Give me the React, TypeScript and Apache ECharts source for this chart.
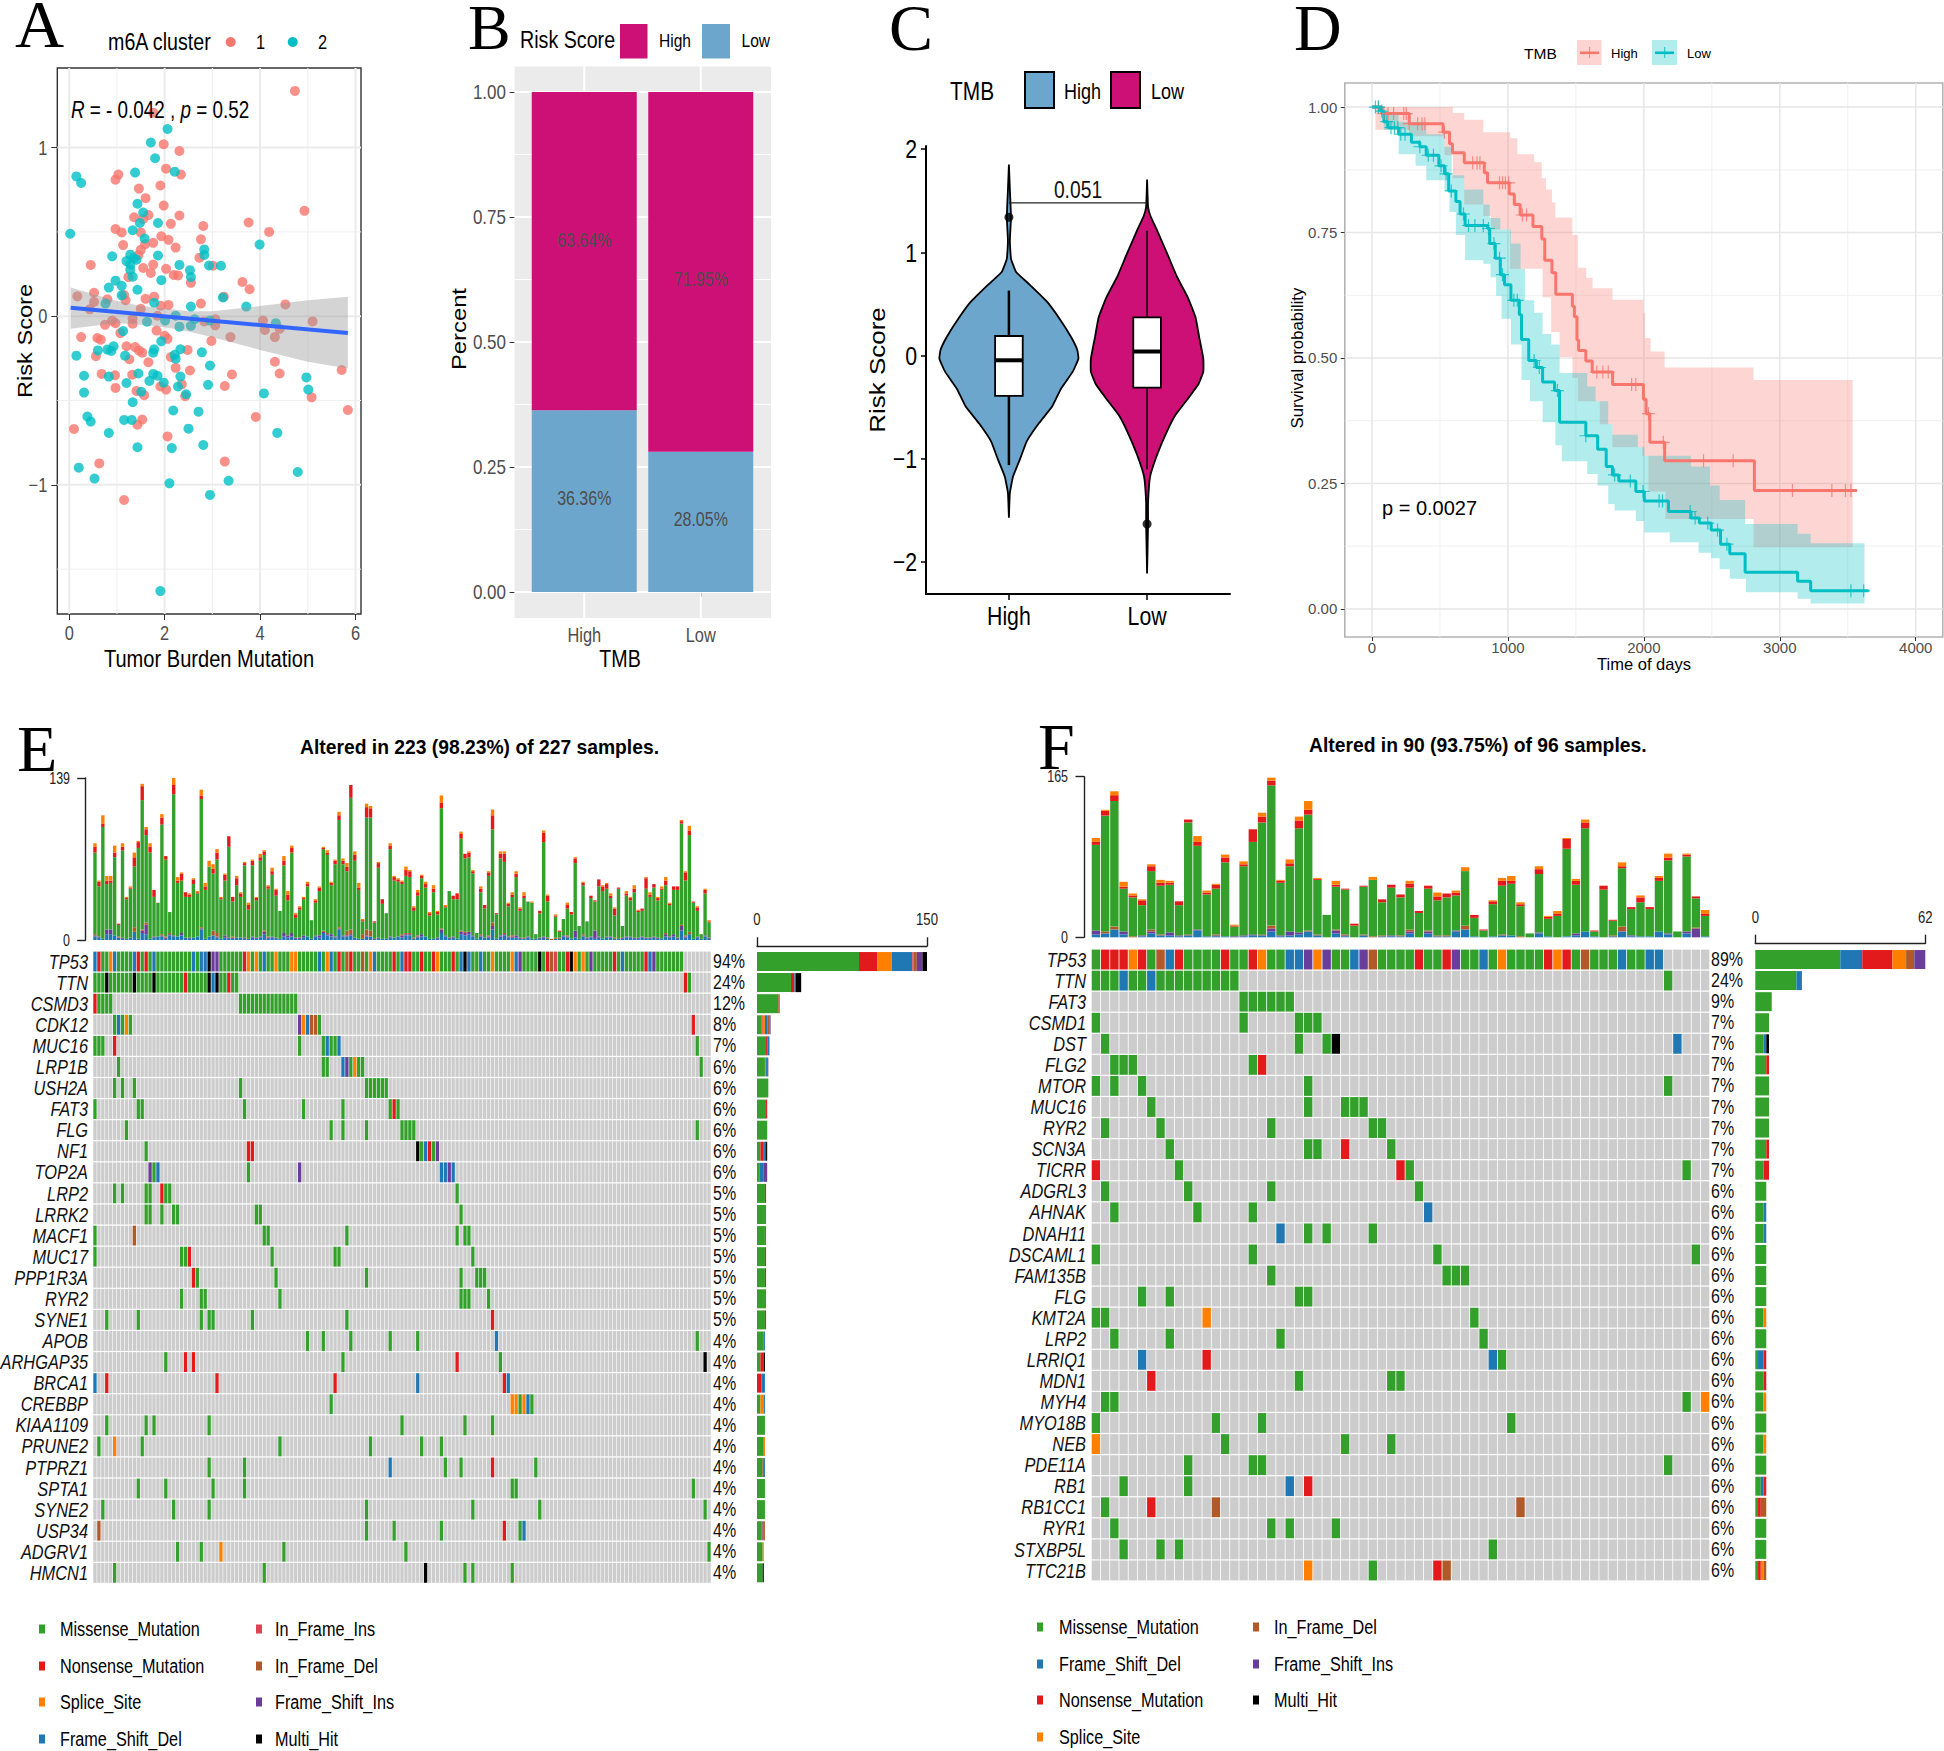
import React, { useEffect, useRef } from "react";
import * as echarts from "echarts";

const SANS = "'Liberation Sans', Arial, sans-serif";
const SERIF = "'Liberation Serif', serif";
const SQUEEZE = 0.82;

// ---------- Panel A ----------
const cluster1Points = [[4.73,1.336],[1.76,1.207],[1.98,1.02],[2.31,0.98],[2.03,0.875],[2.34,0.84],[1.03,0.84],[0.97,0.81],[1.91,0.775],[1.46,0.757],[1.6,0.7],[1.98,0.656],[4.93,0.625],[1.66,0.6],[1.36,0.587],[2.31,0.597],[1.55,0.577],[2.13,0.548],[2.81,0.535],[3.76,0.556],[0.97,0.517],[1.1,0.497],[4.19,0.5],[1.5,0.497],[1.93,0.474],[2.08,0.453],[2.76,0.456],[1.76,0.435],[1.13,0.422],[2.23,0.407],[1.59,0.427],[1.5,0.394],[2.73,0.347],[0.45,0.304],[1.45,0.363],[1.76,0.306],[3.01,0.299],[1.55,0.286],[2.03,0.281],[1.71,0.257],[2.19,0.245],[2.28,0.242],[1.24,0.232],[2.55,0.198],[3.63,0.203],[3.78,0.16],[0.52,0.139],[0.17,0.118],[3.24,0.116],[1.15,0.126],[0.8,0.1],[1.6,0.103],[0.52,0.085],[1.78,0.116],[1.18,0.095],[4.53,0.07],[2.76,0.075],[1.92,0.062],[2.08,0.067],[0.43,0.041],[1.5,0.044],[1.85,0.003],[1.33,-0.015],[1.33,-0.044],[0.9,-0.026],[0.75,-0.051],[0.97,-0.041],[2.83,-0.031],[3.06,-0.018],[3.06,-0.054],[4.06,-0.026],[5.1,-0.031],[4.1,-0.082],[4.41,-0.075],[0.25,-0.124],[1.83,-0.085],[1.07,-0.1],[0.59,-0.129],[0.66,-0.139],[2.0,-0.116],[2.06,-0.134],[3.38,-0.124],[4.31,-0.124],[2.98,-0.147],[1.2,-0.178],[1.38,-0.183],[1.46,-0.203],[1.53,-0.216],[2.48,-0.2],[0.56,-0.237],[1.26,-0.255],[2.13,-0.242],[4.31,-0.27],[1.66,-0.273],[2.23,-0.306],[2.53,-0.322],[5.71,-0.319],[0.68,-0.342],[0.96,-0.35],[1.32,-0.347],[4.41,-0.34],[3.41,-0.345],[1.91,-0.417],[2.36,-0.404],[0.97,-0.425],[3.26,-0.414],[2.03,-0.435],[1.41,-0.443],[1.57,-0.468],[2.43,-0.474],[5.08,-0.481],[5.84,-0.556],[3.91,-0.597],[1.53,-0.613],[1.43,-0.643],[0.1,-0.669],[2.06,-0.713],[3.26,-0.862],[0.63,-0.873],[1.15,-1.09]];
const cluster2Points = [[2.06,1.11],[1.71,1.03],[1.8,0.937],[1.38,0.852],[2.21,0.857],[0.15,0.829],[0.25,0.79],[1.43,0.667],[1.55,0.615],[1.86,0.553],[1.48,0.553],[1.33,0.51],[1.58,0.461],[0.02,0.489],[3.99,0.425],[2.83,0.396],[2.83,0.363],[0.9,0.355],[1.86,0.36],[1.28,0.365],[1.35,0.345],[1.41,0.335],[1.2,0.327],[1.28,0.306],[2.31,0.304],[2.93,0.301],[3.18,0.299],[1.28,0.275],[2.53,0.273],[1.33,0.234],[2.55,0.232],[1.93,0.214],[0.97,0.211],[1.1,0.18],[0.83,0.17],[1.43,0.157],[1.1,0.124],[3.22,0.111],[1.78,0.08],[0.76,0.075],[2.55,0.057],[3.71,0.057],[2.23,0.003],[2.01,-0.026],[1.63,-0.033],[2.63,-0.018],[2.95,-0.026],[2.31,-0.062],[2.55,-0.057],[4.33,-0.041],[1.13,-0.088],[1.93,-0.149],[0.93,-0.178],[0.6,-0.203],[0.8,-0.198],[0.88,-0.206],[1.78,-0.196],[1.76,-0.216],[2.33,-0.196],[2.78,-0.214],[2.21,-0.229],[2.23,-0.252],[1.17,-0.234],[0.15,-0.234],[2.95,-0.293],[1.45,-0.34],[1.76,-0.342],[1.85,-0.353],[2.33,-0.358],[0.31,-0.353],[0.83,-0.358],[1.68,-0.384],[1.98,-0.394],[1.2,-0.396],[2.91,-0.407],[2.28,-0.417],[4.97,-0.363],[5.01,-0.435],[1.51,-0.448],[0.31,-0.453],[2.45,-0.463],[4.08,-0.458],[1.33,-0.51],[2.18,-0.559],[2.71,-0.566],[0.38,-0.595],[0.45,-0.625],[1.15,-0.615],[1.31,-0.615],[2.5,-0.667],[0.83,-0.692],[4.36,-0.692],[2.81,-0.764],[1.43,-0.777],[2.15,-0.782],[0.2,-0.898],[4.79,-0.924],[0.53,-0.963],[3.34,-0.976],[2.1,-0.991],[2.95,-1.06],[1.91,-1.63]];
const regressionLine = [[0.03,0.05],[5.84,-0.1]];
const regressionUpper = [[0.03,0.17],[1,0.09],[1.5,0.06],[2,0.045],[2.5,0.03],[3,0.03],[4,0.06],[5,0.095],[5.84,0.115]];
const regressionLower = [[0.03,-0.075],[1,-0.04],[1.5,-0.05],[2,-0.065],[2.5,-0.09],[3,-0.125],[4,-0.2],[5,-0.27],[5.84,-0.31]];

// ---------- Panel B ----------
const tmbGroups = ["High", "Low"];
const riskHighShare = [0.6364, 0.7195];
const riskLowShare = [0.3636, 0.2805];
const shareLabels: any[] = [[0,0.7034,"63.64%"],[1,0.625,"71.95%"],[0,0.187,"36.36%"],[1,0.146,"28.05%"]];

// ---------- Panel C ----------
const violinHigh = [[1.85,0],[1.61,0.007],[1.34,0.015],[1.11,0.007],[0.94,0.015],[0.81,0.052],[0.69,0.148],[0.52,0.277],[0.35,0.37],[0.18,0.45],[0.055,0.495],[-0.03,0.503],[-0.155,0.462],[-0.32,0.377],[-0.49,0.314],[-0.66,0.214],[-0.83,0.129],[-1.0,0.081],[-1.17,0.03],[-1.33,0.007],[-1.57,0]];
const violinLow = [[1.705,0],[1.44,0.007],[1.35,0.025],[1.23,0.067],[0.98,0.148],[0.77,0.214],[0.56,0.296],[0.37,0.351],[0.18,0.377],[-0.03,0.407],[-0.155,0.407],[-0.28,0.37],[-0.43,0.288],[-0.58,0.203],[-0.745,0.14],[-0.955,0.074],[-1.17,0.022],[-1.42,0.007],[-1.63,0.007],[-2.11,0]];
const boxStats = [[1,-1.06,-0.39,-0.045,0.19,0.63,2.5],[2,-1.1,-0.31,0.04,0.37,1.21,1.5]];
const violinOutliers = [[1,1.34],[2,-1.63]];
const pBracket = [[1,1.48],[2,1.48]];

// ---------- Panel D ----------
const kmHigh = [[0,1],[72,0.987],[274,0.967],[523,0.95],[570,0.927],[592,0.909],[679,0.889],[826,0.869],[850,0.849],[1009,0.827],[1047,0.806],[1090,0.785],[1184,0.762],[1249,0.737],[1271,0.695],[1324,0.67],[1352,0.627],[1474,0.603],[1489,0.582],[1508,0.536],[1520,0.515],[1573,0.494],[1620,0.472],[1770,0.447],[1997,0.418],[2016,0.389],[2044,0.332],[2153,0.295],[2813,0.236],[3567,0.236]];
const kmLow = [[0,1],[62,0.992],[87,0.971],[118,0.959],[196,0.946],[290,0.93],[352,0.921],[399,0.904],[492,0.883],[533,0.867],[564,0.833],[617,0.812],[648,0.787],[685,0.764],[850,0.758],[866,0.728],[907,0.699],[944,0.666],[975,0.646],[1022,0.615],[1084,0.586],[1100,0.537],[1153,0.495],[1209,0.481],[1255,0.452],[1343,0.435],[1380,0.372],[1573,0.345],[1660,0.318],[1723,0.284],[1769,0.267],[1816,0.255],[1941,0.234],[2003,0.215],[2181,0.194],[2346,0.181],[2408,0.171],[2495,0.157],[2564,0.129],[2632,0.11],[2745,0.073],[3131,0.055],[3227,0.036],[3654,0.036]];
const censorHigh = [47,87,118,159,234,252,274,336,368,389,533,741,773,794,938,960,981,1006,1106,1137,1654,1698,1738,1910,1941,2034,2143,2439,2657,3093,3383,3483,3523];
const censorLow = [25,47,72,109,140,165,190,212,243,352,414,452,508,545,583,673,710,757,819,857,897,938,960,1044,1069,1193,1231,1364,1573,1785,1900,1994,2112,2137,2340,2377,2470,2542,2611,3523,3617];
const highUpper = [[25,1],[595,0.988],[679,0.975],[819,0.95],[1016,0.938],[1069,0.906],[1193,0.89],[1249,0.858],[1280,0.836],[1324,0.81],[1349,0.78],[1474,0.745],[1514,0.68],[1576,0.66],[1623,0.639],[1769,0.616],[1997,0.59],[2009,0.54],[2050,0.513],[2153,0.481],[2807,0.456],[3536,0.456]];
const highLower = [[25,0.955],[274,0.942],[533,0.904],[595,0.858],[679,0.806],[819,0.783],[875,0.756],[1016,0.678],[1255,0.621],[1318,0.552],[1380,0.502],[1474,0.46],[1514,0.414],[1676,0.368],[1769,0.322],[1988,0.305],[2034,0.234],[2159,0.179],[2807,0.123],[3536,0.123]];
const lowUpper = [[0,1],[87,0.984],[196,0.971],[399,0.946],[533,0.921],[586,0.864],[679,0.836],[819,0.806],[866,0.779],[944,0.756],[1022,0.728],[1093,0.678],[1125,0.615],[1193,0.59],[1255,0.548],[1318,0.527],[1380,0.47],[1583,0.443],[1645,0.414],[1738,0.368],[1769,0.347],[1956,0.322],[2003,0.305],[2346,0.284],[2486,0.246],[2558,0.217],[2745,0.169],[3131,0.15],[3227,0.131],[3623,0.131]];
const lowLower = [[0,1],[87,0.955],[196,0.906],[321,0.883],[399,0.854],[533,0.833],[570,0.791],[617,0.745],[685,0.695],[819,0.688],[872,0.661],[913,0.624],[953,0.578],[1022,0.527],[1100,0.456],[1162,0.414],[1255,0.372],[1349,0.326],[1396,0.294],[1583,0.269],[1660,0.246],[1738,0.209],[1785,0.196],[1941,0.175],[2003,0.152],[2190,0.133],[2402,0.112],[2495,0.101],[2558,0.079],[2632,0.06],[2751,0.033],[3131,0.02],[3227,0.011],[3623,0.011]];

// ---------- Panel E ----------
const eGenes = ["TP53","TTN","CSMD3","CDK12","MUC16","LRP1B","USH2A","FAT3","FLG","NF1","TOP2A","LRP2","LRRK2","MACF1","MUC17","PPP1R3A","RYR2","SYNE1","APOB","ARHGAP35","BRCA1","CREBBP","KIAA1109","PRUNE2","PTPRZ1","SPTA1","SYNE2","USP34","ADGRV1","HMCN1"];
const ePercents = ["94%","24%","12%","8%","7%","6%","6%","6%","6%","6%","6%","5%","5%","5%","5%","5%","5%","5%","4%","4%","4%","4%","4%","4%","4%","4%","4%","4%","4%","4%"];
const eCells = [
"0-149M 0D 1N 4S 5D 10D 11N 13N 15D 25D 27-28D 29H 30-31F 38N 39S 41S 43D 46S 50-51S 57D 59S 60D 62N 64B 65N 68B 70S 71D 76N 78D 79-80N 83N 86N 87S 91N 93D 94H 95D 98D 101S 106S 107D 108F 113H 115N 116B 117I 120N 121H 122S 124S 126F 132N 134D 140N 141D 142F",
"0-36M 3H 10H 15H 23N 29H 30D 31H 34N 150N 151M",
"0N 1-4M 37-51M",
"5M 6D 7M 8S 9M 52F 53S 54D 55-56B 57M 152N",
"0-2M 5N 52M 58M 59D 60-61M 62D 153M",
"6M 58-59M 63D 64F 65M 66S 67-68M 154M",
"5M 7M 10M 37M 69-74M",
"0M 11-12M 38M 53M 63M 75M 76N 77M",
"8M 60M 63M 69M 78-81M 153M",
"13M 39-40N 82H 83M 84D 85N 86M 87F",
"14F 15M 16D 39M 52F 88-89D 90F 91D",
"5M 7M 13-14M 17N 18-19M 92M",
"13-14M 17M 20-21M 41-42M 93M",
"0M 10B 43-44M 64M 92M 94-95M",
"0M 22-23M 24N 45M 61-62M 96M",
"25N 26M 46M 69M 93M 97-99M",
"22M 27-28M 47M 93-95M 100M",
"3M 11M 27M 29-30M 40M 64M 101N",
"54M 58M 65M 75M 82M 102D 153M",
"18M 23N 25N 63M 92N 103M 155H",
"0D 3N 31N 61N 82D 104N 105D",
"60M 106-107S 108M 109S 110D 111M",
"3M 13M 15M 29M 78M 94M 101M",
"1M 5S 12M 47M 70M 83M 88M",
"29M 38M 75D 89M 93M 101N 112M",
"11M 18M 30M 38M 106-107M 152M",
"2M 20M 29M 69M 96M 113M 155M",
"1B 69M 76M 88M 104N 108M 109D",
"21M 27M 32S 48M 79M 156M",
"5M 43M 84H 94M 96M 106M"
];
const eMissenseTop = [75,46,97,48,49,71,13,77,35,44,63,79,120,90,75,37,32,99,69,24,125,49,51,37,37,48,40,121,43,63,57,69,35,51,80,33,47,37,64,26,64,34,68,73,44,56,38,25,64,34,75,19,26,35,46,17,32,42,78,73,47,65,103,65,59,122,68,43,16,105,105,15,62,31,23,78,51,50,48,55,54,25,38,53,45,21,41,22,113,28,42,35,35,87,70,71,57,6,41,27,55,95,22,70,67,29,37,54,25,36,33,32,5,23,84,33,1,20,7,18,27,22,66,12,47,16,36,33,46,42,44,36,21,44,12,38,34,41,24,25,44,37,45,34,43,47,30,43,43,100,51,90,32,25,5,40,15];
const eNonsense = [5,4,3,3,2,4,1,3,1,1,8,5,12,5,5,6,0,6,3,0,8,2,6,4,2,4,1,3,3,0,4,6,1,5,9,4,6,3,2,4,4,2,3,3,2,3,5,0,4,5,4,3,2,1,2,0,2,3,1,2,2,3,4,3,4,11,5,2,1,9,8,1,4,4,0,3,3,2,2,5,5,3,3,2,3,2,3,2,5,1,0,3,5,4,4,4,2,0,3,3,3,12,1,4,7,2,2,3,2,2,0,0,0,2,8,5,0,1,1,0,3,2,4,0,2,0,2,1,6,4,4,2,6,1,0,2,2,3,1,2,9,2,3,2,1,4,1,3,3,2,7,4,1,3,0,3,1];
const eSplice = [3,1,7,4,4,6,0,3,1,1,4,1,2,2,3,0,0,3,0,0,6,3,1,0,1,1,1,5,3,5,4,3,1,1,0,0,2,1,1,2,1,1,3,1,1,3,1,0,4,3,2,1,1,1,2,0,1,1,1,2,1,1,3,2,3,0,3,4,1,3,2,0,1,0,0,2,1,1,1,3,1,1,2,1,2,1,3,1,6,1,0,0,0,2,0,1,1,0,2,0,1,5,0,2,2,1,2,2,1,3,0,1,0,0,2,1,0,1,0,0,2,0,1,0,1,0,0,0,0,1,1,2,1,0,0,2,1,3,1,0,1,2,0,1,2,3,1,0,0,1,1,4,0,1,0,1,1];
const eFrameDel = [3,2,1,5,5,4,2,1,1,2,7,1,6,5,1,2,3,3,1,4,3,3,4,2,1,2,3,9,1,3,4,2,1,2,1,1,2,2,1,1,2,1,2,5,1,2,1,1,3,2,3,1,1,2,3,1,3,2,6,4,3,2,9,3,3,4,2,1,1,3,3,1,1,1,1,2,2,3,2,4,4,1,2,3,3,1,1,1,6,3,1,2,1,5,4,5,3,1,3,2,2,9,1,3,4,2,2,2,1,1,2,1,1,1,2,1,0,1,1,3,2,1,2,1,3,1,2,1,2,1,2,2,1,1,1,2,2,1,1,2,1,1,2,1,1,3,2,3,1,8,2,5,1,2,1,3,1];
const eFrameIns = [1,1,0,4,4,0,0,1,0,0,0,0,2,8,0,1,0,1,1,1,1,0,2,0,1,0,0,1,0,0,0,1,0,2,1,1,0,0,1,0,1,1,1,2,1,1,1,0,3,2,3,1,1,2,0,0,1,2,1,1,2,1,1,1,1,1,0,0,0,1,0,0,1,0,0,1,0,0,2,1,1,0,1,2,0,0,0,1,3,1,1,1,0,2,2,2,1,0,1,0,1,3,0,1,1,1,1,2,1,0,1,0,0,1,1,0,0,0,0,1,1,0,6,0,1,1,1,7,1,0,1,1,0,0,1,1,1,1,1,1,1,1,1,1,0,2,1,2,1,4,1,0,0,1,0,1,1];
const eFrameInDel = [1,0,0,0,0,0,1,0,0,0,4,0,1,2,0,0,0,1,1,1,0,0,0,0,0,0,0,1,0,0,4,3,0,0,0,1,0,0,0,0,0,0,0,1,1,0,0,0,0,0,0,0,0,0,0,0,0,0,1,1,0,0,1,0,4,4,0,0,4,5,5,0,0,0,0,0,0,0,1,1,1,1,1,0,0,0,0,0,1,0,0,0,0,1,1,0,0,0,1,0,1,3,0,0,1,0,1,0,0,1,0,0,0,0,0,1,1,1,1,0,1,0,0,0,1,0,0,0,0,0,0,0,1,0,0,0,0,0,0,0,0,0,0,0,0,1,0,0,0,1,1,2,0,0,0,0,0];

// ---------- Panel F ----------
const fGenes = ["TP53","TTN","FAT3","CSMD1","DST","FLG2","MTOR","MUC16","RYR2","SCN3A","TICRR","ADGRL3","AHNAK","DNAH11","DSCAML1","FAM135B","FLG","KMT2A","LRP2","LRRIQ1","MDN1","MYH4","MYO18B","NEB","PDE11A","RB1","RB1CC1","RYR1","STXBP5L","TTC21B"];
const fPercents = ["89%","24%","9%","7%","7%","7%","7%","7%","7%","7%","7%","6%","6%","6%","6%","6%","6%","6%","6%","6%","6%","6%","6%","6%","6%","6%","6%","6%","6%","6%"];
const fCells = [
"0-61M 1-3N 4S 5N 7B 8D 9N 14N 17N 18S 21-22D 23F 24S 25F 28D 29F 30B 35N 38N 39F 42D 44S 49N 50S 51N 53B 57D 60-61D",
"0-15M 3D 6D 62M",
"16-21M",
"0M 16M 22-24M",
"1M 22M 25M 26H 63D",
"2-4M 17M 18N",
"0M 2M 5M 23M 62M",
"6M 23M 27-29M",
"1M 7M 19M 30-31M",
"8M 23-24M 27N 32M",
"0N 9M 33N 34M 64M",
"1M 10M 19M 35M",
"2M 11M 17M 36D",
"20D 23M 25M 30M",
"0M 17M 37M 65M",
"19M 38-40M",
"5M 8M 22-23M",
"0-1M 12S 41M",
"2M 8M 20M 42M",
"5D 12N 43D 44M",
"6N 22M 32-33M",
"1-2M 64M 66S",
"0M 13M 18M 45M",
"0S 14M 27M 32M",
"10M 17-18M 62M",
"3M 10M 21D 23N",
"1M 6N 13B 46B",
"2M 19M 21M 26M",
"3M 7M 9M 43M",
"23S 30M 37N 38B"
];
const fMissenseTop = [95,125,140,50,41,33,68,53,54,33,118,94,44,50,77,11,73,98,118,156,56,73,112,126,59,23,52,49,12,52,59,36,51,41,51,25,50,38,41,43,68,20,7,34,53,55,32,4,65,19,22,91,54,112,6,49,17,71,29,36,29,58,79,6,83,40,22];
const fNonsense = [3,5,6,2,2,5,5,3,2,4,3,4,2,4,5,1,2,13,6,5,2,3,8,5,1,0,2,1,2,1,0,3,3,3,4,2,3,4,4,3,0,3,1,3,5,3,2,0,5,2,2,10,4,6,1,4,1,2,2,5,2,3,3,0,2,2,2];
const fSplice = [4,1,4,5,2,1,2,3,2,0,0,6,2,1,3,1,3,0,4,3,1,4,4,9,1,0,4,0,0,0,3,0,0,0,3,0,0,4,0,2,4,0,0,1,3,5,2,0,3,1,3,1,2,3,0,0,0,4,0,2,0,2,4,0,1,0,4];
const fFrameDel = [3,4,8,3,0,1,4,2,2,1,2,7,1,1,1,0,1,2,2,6,1,2,3,6,2,0,4,1,0,2,0,1,1,1,4,0,4,1,1,6,8,1,0,1,2,2,0,0,4,1,0,1,2,6,1,0,1,6,1,1,1,6,3,0,4,0,1];
const fFrameIns = [4,0,0,3,0,1,2,0,3,1,0,1,0,1,0,1,1,1,0,3,1,4,2,0,0,0,3,1,0,0,0,0,1,0,2,0,2,0,0,1,0,0,0,0,0,0,0,0,1,0,0,0,2,0,0,0,0,0,1,0,0,0,1,0,2,9,0];
const fFrameInDel = [0,2,3,0,1,0,2,1,0,0,1,0,0,1,0,0,0,0,1,3,0,0,0,1,1,0,1,1,0,1,1,1,0,1,2,0,1,1,1,0,4,0,0,0,1,0,1,0,0,0,0,0,0,0,0,0,1,5,0,0,0,0,0,0,0,1,0];

const mutationNames: Record<string, string> = { M: "Missense_Mutation", N: "Nonsense_Mutation", S: "Splice_Site", D: "Frame_Shift_Del", I: "In_Frame_Ins", B: "In_Frame_Del", F: "Frame_Shift_Ins", H: "Multi_Hit" };
const mutationColors: Record<string, string> = { M: "#33A02C", N: "#E31A1C", S: "#FF7F00", D: "#1F78B4", I: "#DC4456", B: "#B15928", F: "#6A3D9A", H: "#000000", none: "#CCCCCC" };
const eSideOrder = ["M","N","S","D","I","B","F","H"];
const fSideOrder = ["M","D","N","S","B","F","H"];
const eLegendRows = [["M","I"],["N","B"],["S","F"],["D","H"]];
const fLegendRows = [["M","B"],["D","F"],["N","H"],["S"]];

function parseCells(rows: string[]) {
  return rows.map((row) => {
    const m = new Map<number, string>();
    row.split(" ").forEach((tok) => {
      const hit = tok.match(/^(\d+)(?:-(\d+))?([A-Z])$/);
      if (!hit) return;
      const a = +hit[1], b = hit[2] ? +hit[2] : a;
      for (let c = a; c <= b; c++) m.set(c, hit[3]);
    });
    return m;
  });
}

const stepValue = (curve: number[][], t: number) => {
  let v = curve[0][1];
  for (const [x, y] of curve) if (x <= t) v = y;
  return v;
};

function stepBand(upper: number[][], lower: number[][]) {
  const out: number[][] = [];
  upper.forEach((p, i) => { if (i) out.push([p[0], upper[i - 1][1]]); out.push(p); });
  const low: number[][] = [];
  lower.forEach((p, i) => { if (i) low.push([p[0], lower[i - 1][1]]); low.push(p); });
  return out.concat(low.reverse());
}

function polySeries(xi: number, yi: number, pts: number[][], style: any, z = 3) {
  return {
    type: "custom", xAxisIndex: xi, yAxisIndex: yi, z, silent: true, data: [[pts[0][0], pts[0][1]]],
    renderItem: (_: any, api: any) => ({ type: "polygon", shape: { points: pts.map((p) => api.coord(p)) }, style }),
  };
}

function ruleSeries(xi: number, yi: number, xs: number[], ys: number[], ref: number[], color: string, width: number, span?: number[]) {
  const items = [...xs.map((v) => ({ x: v })), ...ys.map((v) => ({ y: v }))] as any[];
  return {
    type: "custom", xAxisIndex: xi, yAxisIndex: yi, z: 1, silent: true, data: items.map(() => ref),
    renderItem: (params: any, api: any) => {
      const it = items[params.dataIndex];
      const c = params.coordSys;
      if (it.x !== undefined) {
        const p = api.coord([it.x, ref[1]]);
        return { type: "line", shape: { x1: p[0], y1: c.y, x2: p[0], y2: c.y + c.height }, style: { stroke: color, lineWidth: width } };
      }
      const p = api.coord([ref[0], it.y]);
      const a = span ? span[0] : c.x, b = span ? span[1] : c.x + c.width;
      return { type: "line", shape: { x1: a, y1: p[1], x2: b, y2: p[1] }, style: { stroke: color, lineWidth: width } };
    },
  };
}

// Text placed through the axes' scales, so it can be squeezed like the reference's text.
function labelSeries(xi: number, yi: number, items: any[], common: any = {}) {
  const rows = items.map((it) => ({ ...common, ...it }));
  return {
    type: "custom", xAxisIndex: xi, yAxisIndex: yi, z: 10, silent: true, progressive: 0,
    data: rows.map((it) => [it.x, it.y]),
    renderItem: (params: any, api: any) => {
      const it = rows[params.dataIndex];
      const p = api.coord([it.x, it.y]);
      return {
        type: "text",
        x: it.ax !== undefined ? it.ax : p[0] + (it.dx || 0),
        y: it.ay !== undefined ? it.ay : p[1] + (it.dy || 0),
        scaleX: it.sx === undefined ? SQUEEZE : it.sx,
        style: {
          text: it.text, fontSize: it.size, fontFamily: SANS, fontStyle: it.i || "normal",
          fill: it.c || "#000", textAlign: it.a || "center", textVerticalAlign: "middle",
        },
      };
    },
  };
}

function T(text: string, x: number, y: number, size: number, o: any = {}) {
  return {
    type: "text", x, y, z: 100, silent: true, rotation: o.rot || 0, scaleX: o.sx || 1, scaleY: o.sy || 1,
    style: {
      text, fontSize: size, fontFamily: o.ff || SANS, fontWeight: o.w || "normal", fontStyle: o.i || "normal",
      fill: o.c || "#000", textAlign: o.a || "left", textVerticalAlign: "middle", rich: o.rich,
    },
  };
}
const R = (x: number, y: number, w: number, h: number, fill: string, o: any = {}) => ({
  type: "rect", x, y, z: o.z === undefined ? 50 : o.z, silent: true, shape: { x: 0, y: 0, width: w, height: h },
  style: { fill, stroke: o.stroke, lineWidth: o.lw },
});

const valueAxis = (gridIndex: number, min: number, max: number, extra: any = {}) => ({
  type: "value", gridIndex, min, max, splitLine: { show: false }, axisLabel: { show: false },
  axisLine: { show: false, onZero: false }, ...extra,
});

function buildOncoplot(xI: number, yI: number, opts: any) {
  const { genes, percents, rows, order, top, gTop, gMat, gSide, topMax, sideMax, cols, gapX, barW, geneX, pctX, topLabelX, sideLabelY } = opts;
  const xAxes: any[] = [], yAxes: any[] = [], series: any[] = [];
  const sampleNames = Array.from({ length: cols }, (_, i) => String(i + 1));
  const hidden = { axisLine: { show: false }, axisTick: { show: false }, axisLabel: { show: false }, splitLine: { show: false } };
  // top stacked bars
  xAxes.push({ type: "category", gridIndex: gTop, data: sampleNames, ...hidden });
  yAxes.push({
    type: "value", gridIndex: gTop, min: 0, max: topMax, interval: topMax, position: "left", offset: opts.topOffset,
    splitLine: { show: false }, axisLabel: { show: false }, axisLine: { show: true, onZero: false, lineStyle: { color: "#222", width: 1.4 } },
    axisTick: { show: true, length: 8.5, lineStyle: { color: "#222", width: 1.4 } },
  });
  top.forEach(([code, vals]: [string, number[]]) => {
    series.push({
      type: "bar", xAxisIndex: xI, yAxisIndex: yI, stack: "t" + gTop, barWidth: barW, silent: true, name: mutationNames[code],
      itemStyle: { color: mutationColors[code] }, data: vals,
    });
  });
  series.push(labelSeries(xI, yI, [
    { x: 0, y: topMax, text: String(topMax) },
    { x: 0, y: 0, text: "0" },
  ], { ax: topLabelX, a: "right", size: 16, sx: 0.78, c: "#222" }));
  // matrix
  const parsed = parseCells(rows);
  const cells: number[][] = [];
  const codes = ["none", ...Object.keys(mutationNames)];
  parsed.forEach((m, r) => {
    for (let c = 0; c < cols; c++) cells.push([c, r, codes.indexOf(m.get(c) || "none")]);
  });
  xAxes.push({ type: "category", gridIndex: gMat, data: sampleNames, ...hidden });
  yAxes.push({ type: "category", gridIndex: gMat, data: genes, inverse: true, ...hidden });
  series.push({
    type: "custom", xAxisIndex: xI + 1, yAxisIndex: yI + 1, silent: true, progressive: 0, data: cells, encode: { x: 0, y: 1 },
    renderItem: (_: any, api: any) => {
      const c = api.coord([api.value(0), api.value(1)]);
      const s = api.size([1, 1]);
      return {
        type: "rect",
        shape: { x: c[0] - s[0] / 2 + gapX / 2, y: c[1] - s[1] / 2 + 0.6, width: s[0] - gapX, height: s[1] - 1.2 },
        style: { fill: mutationColors[codes[api.value(2)]] },
      };
    },
  });
  series.push(labelSeries(xI + 1, yI + 1, genes.map((g: string, i: number) => ({ x: 0, y: i, text: g })), { ax: geneX, a: "right", size: 20, i: "italic", c: "#111" }));
  series.push(labelSeries(xI + 1, yI + 1, percents.map((g: string, i: number) => ({ x: 0, y: i, text: g })), { ax: pctX, a: "left", size: 19.5, c: "#111" }));
  // side bars
  xAxes.push({
    type: "value", gridIndex: gSide, min: 0, max: sideMax, interval: sideMax, position: "top", offset: opts.sideOffset,
    splitLine: { show: false }, axisLabel: { show: false }, axisLine: { show: true, onZero: false, lineStyle: { color: "#222", width: 1.4 } },
    axisTick: { show: true, length: 9, lineStyle: { color: "#222", width: 1.4 } },
  });
  yAxes.push({ type: "category", gridIndex: gSide, data: genes, inverse: true, ...hidden });
  order.forEach((code: string) => {
    series.push({
      type: "bar", xAxisIndex: xI + 2, yAxisIndex: yI + 2, stack: "s" + gSide, barWidth: 19, silent: true, name: mutationNames[code] + " genes",
      itemStyle: { color: mutationColors[code] },
      data: parsed.map((m) => { let n = 0; m.forEach((v) => { if (v === code) n++; }); return n; }),
    });
  });
  series.push(labelSeries(xI + 2, yI + 2, [
    { x: 0, y: 0, text: "0" },
    { x: sideMax, y: 0, text: String(sideMax) },
  ], { ay: sideLabelY, size: 16, c: "#222" }));
  return { xAxes, yAxes, series };
}

const diff = (a: number[], ...rest: number[][]) => a.map((v, i) => Math.max(0, rest.reduce((s, r) => s - r[i], v)));

function buildOption() {
  const grid: any[] = [
    { left: 57.3, top: 68, width: 303.7, height: 546, show: true, borderColor: "#333", borderWidth: 1.4, backgroundColor: "#fff" },
    { left: 526, top: 66.5, width: 233, height: 551.5 },
    { left: 926, top: 146, width: 304, height: 448 },
    { left: 1344.8, top: 83, width: 598, height: 554, show: true, borderColor: "#B3B3B3", borderWidth: 1.6, backgroundColor: "#fff" },
    { left: 93, top: 778, width: 618, height: 162 },
    { left: 93, top: 951, width: 618, height: 632.4 },
    { left: 757, top: 951, width: 170, height: 632.4 },
    { left: 1091.3, top: 776.7, width: 618.4, height: 160.6 },
    { left: 1091.3, top: 949, width: 618.4, height: 632 },
    { left: 1755.3, top: 949, width: 170, height: 632 },
  ].map((g) => ({ ...g, outerBoundsMode: "none" }));

  const xAxis: any[] = [
    valueAxis(0, -0.25, 6.115, { axisTick: { show: true, length: 6, customValues: [0, 2, 4, 6], lineStyle: { color: "#333" } } }),
    {
      type: "category", gridIndex: 1, data: tmbGroups, splitLine: { show: false }, axisLine: { show: false },
      axisLabel: { show: false }, axisTick: { show: true, alignWithLabel: true, length: 5, lineStyle: { color: "#333" } },
    },
    valueAxis(2, 0.4, 2.6, {
      axisLine: { show: true, onZero: false, lineStyle: { color: "#000", width: 2 } },
      axisTick: { show: true, length: 6, customValues: [1, 2], lineStyle: { color: "#000", width: 1.5 } },
    }),
    valueAxis(3, -200, 4199, { axisTick: { show: true, length: 4, customValues: [0, 1000, 2000, 3000, 4000], lineStyle: { color: "#333" } } }),
  ];
  const yAxis: any[] = [
    valueAxis(0, -1.766, 1.472, { axisTick: { show: true, length: 6, customValues: [-1, 0, 1], lineStyle: { color: "#333" } } }),
    valueAxis(1, -0.052, 1.051, { offset: 11.4, axisTick: { show: true, length: 5, customValues: [0, 0.25, 0.5, 0.75, 1], lineStyle: { color: "#333" } } }),
    valueAxis(2, -2.308, 2.03, {
      axisLine: { show: true, onZero: false, lineStyle: { color: "#000", width: 2 } },
      axisTick: { show: true, length: 5, customValues: [-2, -1, 0, 1, 2], lineStyle: { color: "#000", width: 1.5 } },
    }),
    valueAxis(3, -0.056, 1.048, { axisTick: { show: true, length: 4, customValues: [0, 0.25, 0.5, 0.75, 1], lineStyle: { color: "#333" } } }),
  ];

  const plus = "path://M-0.55 -6 H0.55 V6 H-0.55 Z M-6 -0.55 H6 V0.55 H-6 Z";
  const minusText = (v: number) => String(v).replace("-", "\u2212");
  const dTicksX = [0, 1000, 2000, 3000, 4000];
  const dTicksY = [0, 0.25, 0.5, 0.75, 1];

  const series: any[] = [
    // Panel A
    ruleSeries(0, 0, [1, 3, 5], [-1.5, -0.5, 0.5], [0, 0], "#EFEFEF", 1),
    ruleSeries(0, 0, [0, 2, 4, 6], [-1, 0, 1], [0, 0], "#EBEBEB", 2),
    { type: "scatter", xAxisIndex: 0, yAxisIndex: 0, name: "1", data: cluster1Points, symbolSize: 10, silent: true, z: 2, itemStyle: { color: "#F8766D" } },
    { type: "scatter", xAxisIndex: 0, yAxisIndex: 0, name: "2", data: cluster2Points, symbolSize: 10, silent: true, z: 2, itemStyle: { color: "#00BFC4" } },
    polySeries(0, 0, regressionUpper.concat([...regressionLower].reverse()), { fill: "rgba(153,153,153,0.42)" }, 3),
    { type: "line", xAxisIndex: 0, yAxisIndex: 0, data: regressionLine, symbol: "none", silent: true, z: 4, lineStyle: { color: "#3366FF", width: 4 } },
    labelSeries(0, 0, [0, 2, 4, 6].map((v) => ({ x: v, y: -1.766, dy: 19, text: String(v) })), { size: 20, c: "#4D4D4D" }),
    labelSeries(0, 0, [-1, 0, 1].map((v) => ({ x: -0.25, y: v, dx: -10, text: minusText(v) })), { size: 20, c: "#4D4D4D", a: "right" }),
    // Panel B
    ruleSeries(1, 1, [], [0.125, 0.375, 0.625, 0.875], [0, 0], "#FFFFFF", 1, [514.6, 771]),
    ruleSeries(1, 1, [0, 1], [0, 0.25, 0.5, 0.75, 1], [0, 0], "#FFFFFF", 2, [514.6, 771]),
    { type: "bar", xAxisIndex: 1, yAxisIndex: 1, stack: "risk", name: "Low", barWidth: 105, silent: true, z: 2, data: riskLowShare, itemStyle: { color: "#6CA6CD" } },
    { type: "bar", xAxisIndex: 1, yAxisIndex: 1, stack: "risk", name: "High", barWidth: 105, silent: true, z: 2, data: riskHighShare, itemStyle: { color: "#CD1076" } },
    labelSeries(1, 1, shareLabels.map((r) => ({ x: r[0], y: r[1], text: r[2] })), { size: 19.5, c: "#4D4D4D" }),
    labelSeries(1, 1, tmbGroups.map((g, i) => ({ x: i, y: -0.052, dy: 17, text: g })), { size: 20, c: "#4D4D4D" }),
    labelSeries(1, 1, [0, 0.25, 0.5, 0.75, 1].map((v) => ({ x: 0, y: v, ax: 506, text: v.toFixed(2) })), { size: 20, c: "#4D4D4D", a: "right", sx: 0.85 }),
    // Panel C
    {
      type: "custom", xAxisIndex: 2, yAxisIndex: 2, z: 2, silent: true, data: [[1, 0], [2, 0]],
      renderItem: (params: any, api: any) => {
        const prof = params.dataIndex === 0 ? violinHigh : violinLow;
        const cx = params.dataIndex + 1;
        const right = prof.map(([y, h]) => api.coord([cx + h, y]));
        const left = prof.map(([y, h]) => api.coord([cx - h, y])).reverse();
        return {
          type: "polygon", shape: { points: right.concat(left), smooth: 0.12 },
          style: { fill: params.dataIndex === 0 ? "#6CA6CD" : "#CD1076", stroke: "#000", lineWidth: 1.8 },
        };
      },
    },
    {
      type: "custom", xAxisIndex: 2, yAxisIndex: 2, z: 3, silent: true, data: boxStats,
      renderItem: (_: any, api: any) => {
        const x = api.value(0), lo = api.value(1), q1 = api.value(2), md = api.value(3), q3 = api.value(4), hi = api.value(5), w = api.value(6);
        const a = api.coord([x - 0.1, q3]), b = api.coord([x + 0.1, q1]);
        const m1 = api.coord([x - 0.1, md]), m2 = api.coord([x + 0.1, md]);
        const t = api.coord([x, hi]), bt = api.coord([x, lo]);
        return {
          type: "group",
          children: [
            { type: "line", shape: { x1: t[0], y1: t[1], x2: bt[0], y2: bt[1] }, style: { stroke: "#000", lineWidth: w } },
            { type: "rect", shape: { x: a[0], y: a[1], width: b[0] - a[0], height: b[1] - a[1] }, style: { fill: "#fff", stroke: "#000", lineWidth: 1.8 } },
            { type: "line", shape: { x1: m1[0], y1: m1[1], x2: m2[0], y2: m2[1] }, style: { stroke: "#000", lineWidth: 4 } },
          ],
        };
      },
    },
    { type: "scatter", xAxisIndex: 2, yAxisIndex: 2, data: violinOutliers, symbolSize: 9, silent: true, z: 4, itemStyle: { color: "#000" } },
    { type: "line", xAxisIndex: 2, yAxisIndex: 2, data: pBracket, symbol: "none", silent: true, z: 4, lineStyle: { color: "#222", width: 1.2 } },
    labelSeries(2, 2, [{ x: 1.5, y: 1.48, dy: -12, text: "0.051" }], { size: 23.5, c: "#111" }),
    labelSeries(2, 2, [1, 2].map((v) => ({ x: v, y: -2.308, dy: 22, text: tmbGroups[v - 1] })), { size: 26 }),
    labelSeries(2, 2, [-2, -1, 0, 1, 2].map((v) => ({ x: 0.4, y: v, dx: -9, text: minusText(v) })), { size: 26, a: "right" }),
    // Panel D
    ruleSeries(3, 3, [500, 1500, 2500, 3500], [0.125, 0.375, 0.625, 0.875], [0, 0], "#F0F0F0", 1),
    ruleSeries(3, 3, dTicksX, dTicksY, [0, 0], "#E6E6E6", 1.5),
    polySeries(3, 3, stepBand(highUpper, highLower), { fill: "rgba(248,118,109,0.3)" }, 2),
    polySeries(3, 3, stepBand(lowUpper, lowLower), { fill: "rgba(0,191,196,0.3)" }, 2),
    { type: "line", xAxisIndex: 3, yAxisIndex: 3, step: "end", data: kmHigh, symbol: "none", silent: true, z: 3, name: "High", lineStyle: { color: "#F8766D", width: 3 } },
    { type: "line", xAxisIndex: 3, yAxisIndex: 3, step: "end", data: kmLow, symbol: "none", silent: true, z: 3, name: "Low", lineStyle: { color: "#00BFC4", width: 3 } },
    { type: "scatter", xAxisIndex: 3, yAxisIndex: 3, data: censorHigh.map((t) => [t, stepValue(kmHigh, t)]), symbol: plus, symbolSize: 13, silent: true, z: 4, itemStyle: { color: "#F8766D" } },
    { type: "scatter", xAxisIndex: 3, yAxisIndex: 3, data: censorLow.map((t) => [t, stepValue(kmLow, t)]), symbol: plus, symbolSize: 13, silent: true, z: 4, itemStyle: { color: "#00BFC4" } },
    labelSeries(3, 3, dTicksX.map((v) => ({ x: v, y: -0.056, dy: 10, text: String(v) })), { size: 15, c: "#4D4D4D", sx: 1 }),
    labelSeries(3, 3, dTicksY.map((v) => ({ x: -200, y: v, dx: -7.5, text: v.toFixed(2) })), { size: 15, c: "#4D4D4D", a: "right", sx: 1 }),
  ];

  const e = buildOncoplot(xAxis.length, yAxis.length, {
    genes: eGenes, percents: ePercents, rows: eCells, order: eSideOrder, gTop: 4, gMat: 5, gSide: 6, topMax: 139, sideMax: 150, cols: 157, gapX: 0.6, barW: 3.4, topOffset: 7.3, sideOffset: 4.7,
    geneX: 88, pctX: 713, topLabelX: 70, sideLabelY: 920,
    top: [["D", eFrameDel], ["F", eFrameIns], ["B", eFrameInDel], ["M", diff(eMissenseTop, eFrameDel, eFrameIns, eFrameInDel)], ["N", eNonsense], ["S", eSplice]],
  });
  xAxis.push(...e.xAxes); yAxis.push(...e.yAxes); series.push(...e.series);
  const f = buildOncoplot(xAxis.length, yAxis.length, {
    genes: fGenes, percents: fPercents, rows: fCells, order: fSideOrder, gTop: 7, gMat: 8, gSide: 9, topMax: 165, sideMax: 62, cols: 67, gapX: 0.8, barW: 8.4, topOffset: 7.3, sideOffset: 5.3,
    geneX: 1086, pctX: 1711, topLabelX: 1068, sideLabelY: 918,
    top: [["D", fFrameDel], ["F", fFrameIns], ["B", fFrameInDel], ["M", diff(fMissenseTop, fFrameDel, fFrameIns, fFrameInDel)], ["N", fNonsense], ["S", fSplice]],
  });
  xAxis.push(...f.xAxes); yAxis.push(...f.yAxes); series.push(...f.series);

  const N = { sx: SQUEEZE };
  const ROT = Math.PI / 2;
  const graphic: any[] = [
    R(514.6, 66.5, 256.4, 551.5, "#EBEBEB", { z: -1 }),
    // panel letters
    T("A", 15, 24, 68, { ff: SERIF }), T("B", 468, 27, 64, { ff: SERIF }), T("C", 889, 27, 66, { ff: SERIF }),
    T("D", 1294, 27, 66, { ff: SERIF }), T("E", 17, 748, 66, { ff: SERIF }), T("F", 1038, 746, 66, { ff: SERIF }),
    // axis titles
    T("Tumor Burden Mutation", 209, 659, 24.5, { ...N, a: "center" }),
    T("Risk Score", 25, 341, 23.6, { rot: ROT, a: "center", sy: SQUEEZE }),
    T("TMB", 620, 659, 24, { ...N, a: "center" }),
    T("Percent", 459, 329, 23.8, { rot: ROT, a: "center", sy: SQUEEZE }),
    T("Risk Score", 877, 370, 26, { rot: ROT, a: "center", sy: SQUEEZE }),
    T("Time of days", 1644, 664, 16.5, { a: "center" }),
    T("Survival probability", 1297, 358, 16.8, { rot: ROT, a: "center" }),
    // panel A legend + annotation
    T("m6A cluster", 108, 42, 24, N),
    { type: "circle", x: 230.7, y: 42, z: 60, silent: true, shape: { r: 5 }, style: { fill: "#F8766D" } },
    { type: "circle", x: 292.7, y: 42, z: 60, silent: true, shape: { r: 5 }, style: { fill: "#00BFC4" } },
    T("1", 256, 42, 20, N), T("2", 318, 42, 20, N),
    T("{i|R} = - 0.042 , {i|p} = 0.52", 71, 110, 23, { ...N, rich: { i: { fontStyle: "italic", fontSize: 23, fontFamily: SANS } } }),
    // panel B legend
    T("Risk Score", 520, 40, 24, N),
    R(620, 24, 27.5, 34.5, "#CD1076"), T("High", 659, 40, 19, N),
    R(702, 24, 28, 34.5, "#6CA6CD"), T("Low", 741.5, 40, 19, N),
    // panel C legend
    T("TMB", 950, 91, 25.5, N),
    R(1025, 72, 29, 36, "#6CA6CD", { stroke: "#000", lw: 2 }), T("High", 1064, 91, 22, N),
    R(1111, 72, 29, 36, "#CD1076", { stroke: "#000", lw: 2 }), T("Low", 1151, 91, 22, N),
    // panel D legend + p
    T("TMB", 1524, 53, 15.5),
    R(1577, 40, 24.5, 25, "#FDD4D1"), R(1580, 51.5, 19, 2.6, "#F8766D"), R(1589.2, 47, 0.9, 11, "#F8766D"), T("High", 1611, 53, 13),
    R(1652, 40, 25, 25, "#B2ECED"), R(1655, 51.5, 19, 2.6, "#00BFC4"), R(1664.3, 47, 0.9, 11, "#00BFC4"), T("Low", 1687, 53, 13),
    T("p = 0.0027", 1382, 508, 20),
    // titles
    T("Altered in 223 (98.23%) of 227 samples.", 300, 747, 19.3, { w: "bold" }),
    T("Altered in 90 (93.75%) of 96 samples.", 1309, 745, 19.3, { w: "bold" }),
  ];
  const eLegY = [1629, 1666, 1702, 1739];
  eLegendRows.forEach((row, i) => row.forEach((code, j) => {
    graphic.push(R(j ? 256 : 39, eLegY[i] - 4.5, 6, 9, mutationColors[code]));
    graphic.push(T(mutationNames[code], j ? 275 : 60, eLegY[i], 19.8, N));
  }));
  const fLegY = [1627, 1664, 1700, 1737];
  fLegendRows.forEach((row, i) => row.forEach((code, j) => {
    graphic.push(R(j ? 1253 : 1037, fLegY[i] - 4.5, 6, 9, mutationColors[code]));
    graphic.push(T(mutationNames[code], j ? 1274 : 1059, fLegY[i], 19.8, N));
  }));

  return { animation: false, backgroundColor: "#fff", grid, xAxis, yAxis, series, graphic };
}

export default function App() {
  const ref = useRef<HTMLDivElement>(null);
  useEffect(() => {
    if (!ref.current) return;
    const chart = echarts.init(ref.current, undefined, { renderer: "svg" });
    chart.setOption(buildOption() as any);
    return () => chart.dispose();
  }, []);
  return <div ref={ref} style={{ position: "absolute", left: 0, top: 0, width: 1944, height: 1751, background: "#fff" }} />;
}
